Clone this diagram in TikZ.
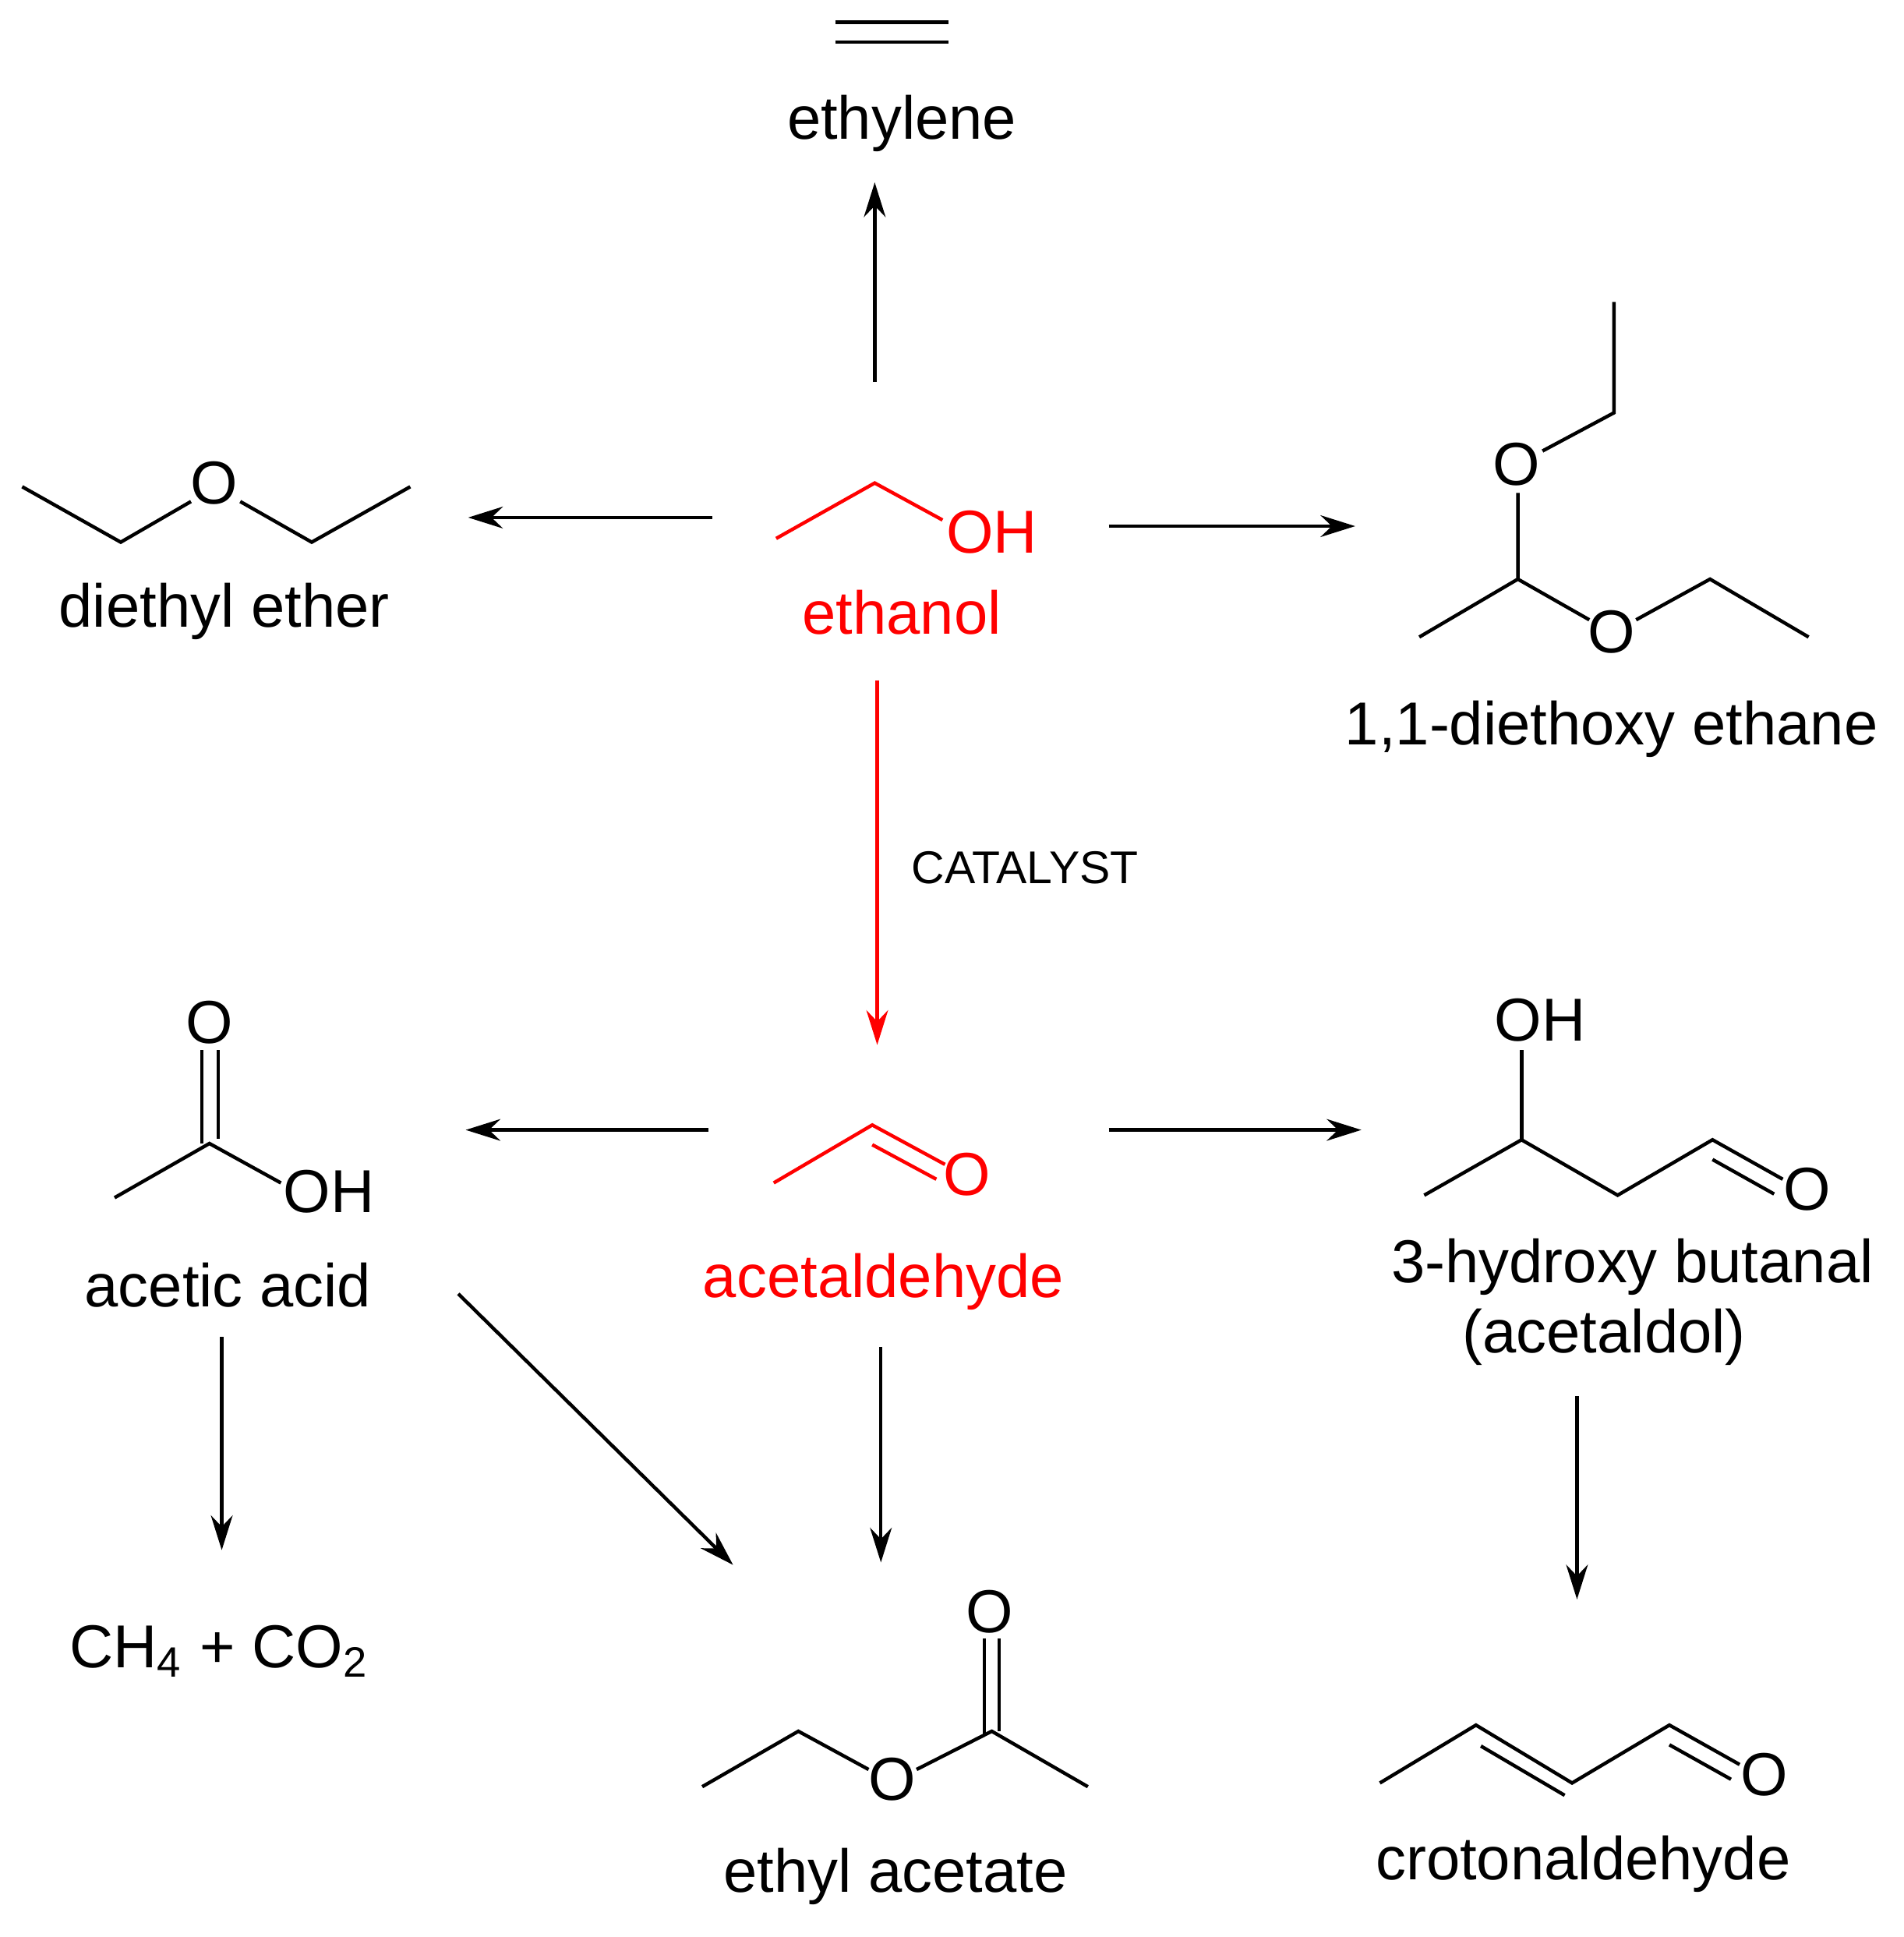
\documentclass[tikz,border=0pt]{standalone}
\usepackage{fontspec}
\setmainfont{Liberation Sans}
\usetikzlibrary{arrows.meta}
\begin{document}
\begin{tikzpicture}[x=0.01cm,y=-0.01cm,line width=0.8pt,
  lbl/.style={font=\fontsize{14}{16}\selectfont,inner sep=0pt},
  atom/.style={font=\fontsize{14}{16}\selectfont,inner sep=0pt},
  arr/.style={-{Stealth[length=8pt,width=5pt]}},
  rd/.style={red}]
\useasboundingbox (0,0) rectangle (1545,1572);
% ethylene
\draw (678,18) -- (770,18); \draw (678,34) -- (770,34);
\node[lbl] (ethylene) at (732,100) {ethylene};
\coordinate (a1s) at (710,310); \coordinate (a1e) at (710,148);
\draw[arr] (a1s) -- (a1e);
% ethanol
\draw[rd] (630,437) -- (710,392) -- (765,422);
\node[atom,red] (ohE) at (805,432) {OH};
\node[lbl,red] (ethanol) at (732,497) {ethanol};
% diethyl ether
\coordinate (a2s) at (578,420); \coordinate (a2e) at (380,420);
\draw[arr] (a2s) -- (a2e);
\draw (18,395) -- (98,440) -- (155,407);
\node[atom] (oDE) at (174,392) {O};
\draw (195,407) -- (253,440) -- (333,395);
\node[lbl] (dee) at (182,496) {diethyl ether};
% diethoxy ethane
\coordinate (a3s) at (900,427); \coordinate (a3e) at (1100,427);
\draw[arr] (a3s) -- (a3e);
\draw (1152,517) -- (1232,470) -- (1232,400);
\node[atom] (o1) at (1231,377) {O};
\draw (1252,366) -- (1310,335) -- (1310,245);
\draw (1232,470) -- (1290,503);
\node[atom] (o2) at (1308,513) {O};
\draw (1328,503) -- (1388,470) -- (1468,517);
\node[lbl] (dea) at (1308,592) {1,1-diethoxy ethane};
% catalyst arrow
\coordinate (a4s) at (712,552); \coordinate (a4e) at (712,848);
\draw[arr,rd] (a4s) -- (a4e);
\node[font=\fontsize{10.6}{12}\selectfont,inner sep=0pt] (cat) at (832,704) {CATALYST};
% acetaldehyde
\draw[rd] (628,960) -- (708,913) -- (767,945);
\draw[rd] (708,929) -- (760,957);
\node[atom,red] (oA) at (785,953) {O};
\node[lbl,red] (acet) at (717,1040) {acetaldehyde};
% acetic acid
\coordinate (a5s) at (575,917); \coordinate (a5e) at (378,917);
\draw[arr] (a5s) -- (a5e);
\draw (93,972) -- (170,928) -- (228,960);
\draw (164,928) -- (164,852); \draw (177,924) -- (177,852);
\node[atom] (oAA) at (170,830) {O};
\node[atom] (ohAA) at (267,967) {OH};
\node[lbl] (aa) at (185,1043) {acetic acid};
% hydroxybutanal
\coordinate (a6s) at (900,917); \coordinate (a6e) at (1105,917);
\draw[arr] (a6s) -- (a6e);
\draw (1156,970) -- (1235,925) -- (1313,970) -- (1390,925) -- (1447,957);
\draw (1390,941) -- (1440,969);
\draw (1235,925) -- (1235,852);
\node[atom] (ohH) at (1250,828) {OH};
\node[atom] (oH) at (1467,965) {O};
\node[lbl] (hb1) at (1325,1028) {3-hydroxy butanal};
\node[lbl] (hb2) at (1302,1085) {(acetaldol)};
% CH4 + CO2
\coordinate (a7s) at (180,1085); \coordinate (a7e) at (180,1258);
\draw[arr] (a7s) -- (a7e);
\node[lbl] (ch4) at (178,1340) {CH\textsubscript{4} + CO\textsubscript{2}};
% ethyl acetate
\coordinate (a8s) at (372,1050); \coordinate (a8e) at (595,1270);
\draw[arr] (a8s) -- (a8e);
\coordinate (a9s) at (715,1093); \coordinate (a9e) at (715,1268);
\draw[arr] (a9s) -- (a9e);
\draw (570,1450) -- (648,1405) -- (705,1436);
\node[atom] (oEA) at (724,1444) {O};
\draw (744,1436) -- (805,1405) -- (883,1450);
\draw (799,1408) -- (799,1330); \draw (811,1405) -- (811,1330);
\node[atom] (oEA2) at (803,1308) {O};
\node[lbl] (ea) at (727,1523) {ethyl acetate};
% crotonaldehyde
\coordinate (a10s) at (1280,1133); \coordinate (a10e) at (1280,1298);
\draw[arr] (a10s) -- (a10e);
\draw (1120,1447) -- (1198,1400) -- (1276,1447) -- (1355,1400) -- (1412,1432);
\draw (1202,1417) -- (1270,1457);
\draw (1355,1416) -- (1405,1444);
\node[atom] (oC) at (1432,1440) {O};
\node[lbl] (cr) at (1285,1513) {crotonaldehyde};
\end{tikzpicture}
\end{document}
